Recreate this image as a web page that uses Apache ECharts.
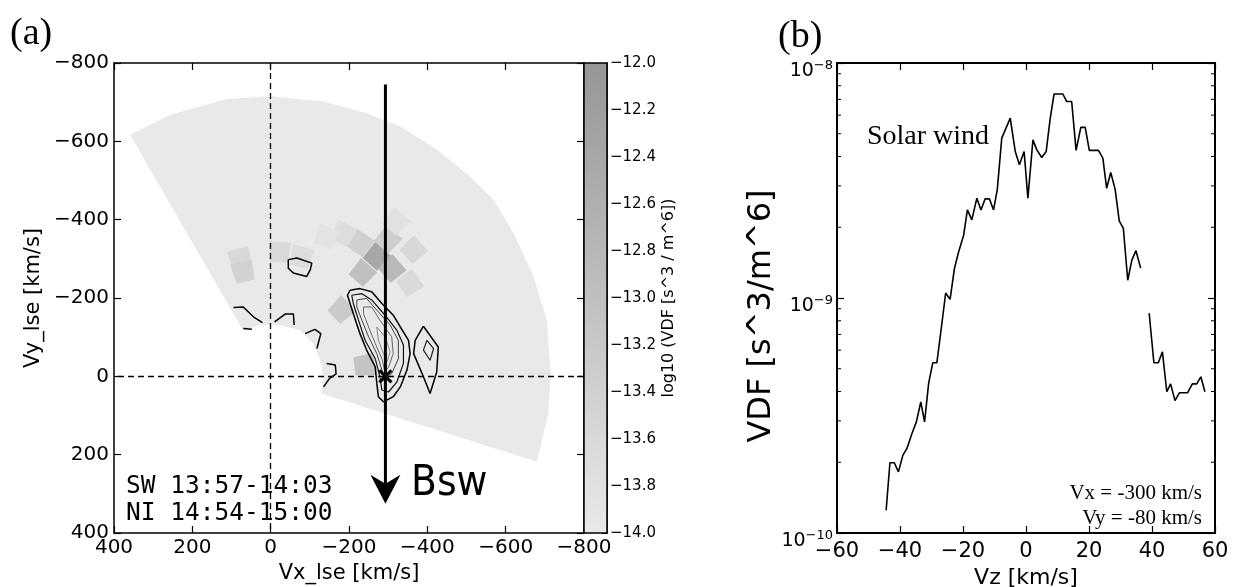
<!DOCTYPE html>
<html>
<head>
<meta charset="utf-8">
<script src="https://cdn.jsdelivr.net/npm/echarts@6/dist/echarts.min.js"></script>
<style>
html, body { margin: 0; padding: 0; background: #fff; }
#chart { width: 1237px; height: 587px; }
</style>
</head>
<body>
<div id="chart"></div>
<script>
// ---- panel (a): VDF slice in the Vx-Vy plane ----
// outline of the sampled region (level -14)
const fanOutline = [[359,-617],[257,-668],[112,-708],[0,-715],[-135,-702],[-245,-672],[-331,-638],
    [-424,-579],[-509,-510],[-569,-451],[-620,-366],[-671,-255],[-705,-144],[-715,-8],[-709,94],
    [-680,218],[-130,44],[-134,10],[-130,-33],[-109,-84],[-75,-118],[-16,-132],[27,-131],[71,-118]];

// grid cells above the floor: [vx, vy, log10 VDF]
const cells = [
    [-271,-306,-12.4], [-310,-275,-12.85], [-235,-265,-13.0], [-300,-350,-13.35],
    [-230,-340,-13.4], [-365,-323,-13.6], [-356,-238,-13.65], [-186,-365,-13.7],
    [-143,-357,-13.85], [-320,-395,-13.8], [-181,-170,-13.25], [-241,-29,-13.1],
    [78,-301,-13.6], [70,-268,-13.45], [-22,-318,-13.65], [-78,-306,-13.7]
];

// contours
const contourOuter = [[-203,-220],[-228,-224],[-258,-216],[-284,-186],[-313,-156],[-331,-126],[-352,-92],
    [-356,-58],[-348,-16],[-331,27],[-313,52],[-288,65],[-275,52],[-271,18],[-267,-24],[-245,-67],
    [-228,-109],[-211,-160],[-196,-207]];
const contourSecond = [[-207,-207],[-233,-211],[-258,-195],[-292,-156],[-322,-118],[-339,-80],[-339,-33],
    [-322,15],[-301,40],[-284,35],[-279,1],[-267,-45],[-241,-92],[-224,-144],[-211,-186]];
const contourInner1 = [[-220,-195],[-245,-199],[-271,-169],[-305,-131],[-326,-92],[-326,-45],[-309,-7],
    [-292,10],[-284,-16],[-271,-58],[-250,-101],[-233,-143],[-220,-177]];
const contourInner2 = [[-237,-177],[-258,-177],[-279,-143],[-309,-101],[-313,-58],[-301,-24],[-292,-11],
    [-284,-45],[-267,-84],[-250,-126],[-237,-160]];
const contourInner3 = [[-271,-126],[-292,-101],[-305,-63],[-297,-37],[-288,-58],[-275,-92]];
const contourSide = [[-390,-128],[-428,-75],[-424,-11],[-407,44],[-390,1],[-365,-58],[-369,-92]];
const contourSideInner = [[-399,-92],[-416,-71],[-407,-41],[-390,-67]];
const contourSmall = [[-45,-298],[-67,-302],[-105,-289],[-101,-272],[-92,-255],[-58,-264],[-45,-276]];
const edgeA = [[95,-176],[70,-177],[44,-152],[21,-137]];
const edgeA2 = [[70,-122],[48,-120]];
const edgeB = [[-10,-139],[-37,-159],[-58,-159],[-60,-131]];
const edgeC = [[-88,-109],[-113,-120],[-128,-109],[-118,-71]];
const edgeD = [[-143,-33],[-165,-29],[-167,-6],[-150,6],[-135,27]];

// magnetic field direction and solar wind core
const arrowLine = [[-293, -745, 325]];
const coreMark = [[-293, 0]];

const colorbarRange = [[-14, -12]];

// ---- panel (b): 1D cut along Vz ----
const vz = [-44.4,-43.2,-41.8,-40.5,-39.1,-37.8,-36.2,-34.8,-33.4,-32.2,-30.9,-29.6,-28.3,-26.7,-25.5,
    -24.1,-22.7,-21.4,-19.8,-18.6,-17.2,-15.6,-14.3,-13.0,-11.6,-10.3,-9.1,-7.7,-5.0,-3.4,-2.1,-0.6,
    0.6,2.2,3.4,5.0,6.4,7.7,8.9,11.7,12.9,14.5,15.9,17.4,18.8,20.1,23.0,24.4,25.6,26.9,28.3,29.6,
    30.9,32.3,33.6,34.9,36.4,37.7,39.1,40.6,42.0,43.3,44.7,45.9,47.3,48.7,51.3,52.8,54.2,55.5,56.8];
const vdf = [1.25e-10,1.99e-10,1.99e-10,1.82e-10,2.14e-10,2.29e-10,2.65e-10,2.97e-10,3.61e-10,2.97e-10,
    4.34e-10,5.30e-10,5.30e-10,7.80e-10,1.05e-9,9.87e-10,1.34e-9,1.57e-9,1.85e-9,2.37e-9,2.15e-9,
    2.66e-9,2.37e-9,2.64e-9,2.64e-9,2.37e-9,2.90e-9,4.79e-9,5.83e-9,4.20e-9,3.69e-9,4.20e-9,2.66e-9,
    4.71e-9,4.28e-9,3.96e-9,4.20e-9,5.83e-9,7.38e-9,7.38e-9,6.86e-9,6.86e-9,4.25e-9,5.32e-9,5.32e-9,
    4.25e-9,4.25e-9,3.94e-9,2.93e-9,3.42e-9,2.90e-9,2.13e-9,1.98e-9,1.19e-9,1.45e-9,1.59e-9,1.34e-9,
    null,8.61e-10,5.30e-10,5.30e-10,5.90e-10,3.99e-10,4.31e-10,3.66e-10,3.95e-10,3.95e-10,4.31e-10,
    4.31e-10,4.62e-10,3.99e-10];
const minorTicks = [2e-10,3e-10,4e-10,5e-10,6e-10,7e-10,8e-10,9e-10,2e-9,3e-9,4e-9,5e-9,6e-9,7e-9,8e-9,9e-9];

const SANS = 'DejaVu Sans';
const CELL = 52;

function minus(v) { return String(v).replace('-', '\u2212'); }

function frameAxis(extra) {
    return Object.assign({
        type: 'value',
        axisLine: { show: true, onZero: false, lineStyle: { color: '#000', width: 1.5 } },
        axisTick: { show: true, inside: true, length: 7, lineStyle: { color: '#000', width: 1.2 } },
        splitLine: { show: false },
        axisLabel: { show: false }
    }, extra);
}

function closed(pts) { return pts.concat([pts[0]]); }

function contour(points, color, width) {
    return {
        type: 'line', xAxisIndex: 0, yAxisIndex: 0, data: points,
        symbol: 'none', showSymbol: false, silent: true, z: 3,
        lineStyle: { color: color, width: width }
    };
}

var chart = echarts.init(document.getElementById('chart'));

var option = {
    animation: false,
    backgroundColor: '#fff',
    grid: [
        { left: 114, top: 63, width: 470, height: 470, outerBoundsMode: 'none' },
        { left: 584, top: 63, width: 23, height: 470, outerBoundsMode: 'none' },
        { left: 837, top: 63, width: 378, height: 470, outerBoundsMode: 'none' }
    ],
    visualMap: {
        type: 'continuous', show: false, min: -14, max: -12, dimension: 2, seriesIndex: 1,
        inRange: { color: ['#e9e9e9', '#969696'] }
    },
    xAxis: [
        frameAxis({
            gridIndex: 0, position: 'bottom', min: -800, max: 400, interval: 200, inverse: true,
            axisLabel: { show: true, margin: 5, fontSize: 20, fontFamily: SANS, color: '#000',
                showMinLabel: true, showMaxLabel: true, formatter: minus },
            name: 'Vx_lse [km/s]', nameLocation: 'middle', nameGap: 27,
            nameTextStyle: { fontSize: 21, fontFamily: SANS, color: '#000' }
        }),
        frameAxis({ gridIndex: 0, position: 'top', min: -800, max: 400, interval: 200, inverse: true }),
        { type: 'value', gridIndex: 1, min: 0, max: 1, show: false },
        frameAxis({
            gridIndex: 2, position: 'bottom', min: -60, max: 60, interval: 20,
            axisLine: { show: true, onZero: false, lineStyle: { color: '#000', width: 2 } },
            axisLabel: { show: true, margin: 8, fontSize: 21, fontFamily: SANS, color: '#000',
                showMinLabel: true, showMaxLabel: true, formatter: minus },
            name: 'Vz [km/s]', nameLocation: 'middle', nameGap: 28,
            nameTextStyle: { fontSize: 22, fontFamily: SANS, color: '#000' }
        }),
        frameAxis({
            gridIndex: 2, position: 'top', min: -60, max: 60, interval: 20,
            axisLine: { show: true, onZero: false, lineStyle: { color: '#000', width: 2 } }
        })
    ],
    yAxis: [
        frameAxis({
            gridIndex: 0, position: 'left', min: -800, max: 400, interval: 200, inverse: true,
            axisLabel: { show: true, margin: 5, fontSize: 20, fontFamily: SANS, color: '#000',
                showMinLabel: true, showMaxLabel: true, formatter: minus },
            name: 'Vy_lse [km/s]', nameLocation: 'middle', nameGap: 70, nameRotate: 90,
            nameTextStyle: { fontSize: 21, fontFamily: SANS, color: '#000' }
        }),
        frameAxis({ gridIndex: 0, position: 'right', min: -800, max: 400, interval: 200, inverse: true }),
        frameAxis({
            gridIndex: 1, position: 'right', min: -14, max: -12, interval: 0.2,
            axisTick: { show: true, inside: true, length: 5, lineStyle: { color: '#000', width: 1 } },
            axisLabel: { show: true, margin: 3, fontSize: 15, fontFamily: SANS, color: '#000',
                showMinLabel: true, showMaxLabel: true,
                formatter: function (v) { return minus(v.toFixed(1)); } },
            name: 'log10 (VDF [s^3 / m^6])', nameLocation: 'middle', nameGap: 54, nameRotate: 90,
            nameTextStyle: { fontSize: 16, fontFamily: SANS, color: '#000' }
        }),
        frameAxis({
            type: 'log', logBase: 10, gridIndex: 2, position: 'left', min: 1e-10, max: 1e-8,
            axisLine: { show: true, onZero: false, lineStyle: { color: '#000', width: 2 } },
            axisLabel: {
                show: true, margin: 4, showMinLabel: true, showMaxLabel: true,
                padding: [12, 0, 0, 0],
                formatter: function (v) { return '{b|10}{s|' + minus(Math.round(Math.log10(v))) + '}'; },
                rich: {
                    b: { fontSize: 19, fontFamily: SANS, color: '#000', lineHeight: 24, verticalAlign: 'bottom' },
                    s: { fontSize: 13, fontFamily: SANS, color: '#000', lineHeight: 14, verticalAlign: 'top', padding: [2, 0, 0, 0] }
                }
            },
            name: 'VDF [s^3/m^6]', nameLocation: 'middle', nameGap: 46, nameRotate: 90,
            nameTextStyle: { fontSize: 32, fontFamily: SANS, color: '#000', padding: [0, 36, 0, 0] }
        }),
        frameAxis({
            type: 'log', logBase: 10, gridIndex: 2, position: 'right', min: 1e-10, max: 1e-8,
            axisLine: { show: true, onZero: false, lineStyle: { color: '#000', width: 2 } }
        })
    ],
    series: [
        {
            // sampled region
            type: 'custom', xAxisIndex: 0, yAxisIndex: 0, data: [[0, 0]], silent: true, z: 1,
            renderItem: function (params, api) {
                return {
                    type: 'polygon',
                    shape: { points: fanOutline.map(function (p) { return api.coord(p); }) },
                    style: { fill: '#e9e9e9' }
                };
            }
        },
        {
            // polar grid cells
            type: 'custom', xAxisIndex: 0, yAxisIndex: 0, data: cells, silent: true, z: 2,
            encode: { x: 0, y: 1 },
            renderItem: function (params, api) {
                var x = api.value(0), y = api.value(1);
                var r = Math.hypot(x, y), th = Math.atan2(y, x);
                var dr = CELL / 2, dth = CELL / 2 / r;
                var pts = [[r - dr, th - dth], [r + dr, th - dth], [r + dr, th + dth], [r - dr, th + dth]]
                    .map(function (c) { return api.coord([c[0] * Math.cos(c[1]), c[0] * Math.sin(c[1])]); });
                return { type: 'polygon', shape: { points: pts }, style: { fill: api.visual('color') } };
            }
        },
        Object.assign(contour(closed(contourOuter), '#000', 1.5), {
            markLine: {
                silent: true, symbol: ['none', 'none'], label: { show: false },
                lineStyle: { color: '#000', width: 1.3, type: [6, 4] },
                data: [{ xAxis: 0 }, { yAxis: 0 }]
            }
        }),
        contour(closed(contourSecond), '#111', 1.2),
        contour(closed(contourInner1), '#444', 1),
        contour(closed(contourInner2), '#666', 1),
        contour(closed(contourInner3), '#888', 1),
        contour(closed(contourSide), '#000', 1.5),
        contour(closed(contourSideInner), '#222', 1.2),
        contour(closed(contourSmall), '#000', 1.5),
        contour(edgeA, '#000', 1.5),
        contour(edgeA2, '#000', 1.5),
        contour(edgeB, '#000', 1.5),
        contour(edgeC, '#000', 1.5),
        contour(edgeD, '#000', 1.5),
        {
            // B field arrow
            type: 'custom', xAxisIndex: 0, yAxisIndex: 0, data: arrowLine, silent: true, z: 5, clip: false,
            encode: { x: 0, y: 1 },
            renderItem: function (params, api) {
                var top = api.coord([api.value(0), api.value(1)]);
                var tip = api.coord([api.value(0), api.value(2)]);
                return {
                    type: 'group', children: [
                        { type: 'line', shape: { x1: top[0], y1: top[1], x2: tip[0], y2: tip[1] - 18 },
                          style: { stroke: '#000', lineWidth: 3 } },
                        { type: 'polygon', shape: { points: [[tip[0] - 15, tip[1] - 29], [tip[0], tip[1] - 20],
                            [tip[0] + 15, tip[1] - 29], [tip[0], tip[1]]] }, style: { fill: '#000' } }
                    ]
                };
            }
        },
        {
            // solar wind core marker
            type: 'custom', xAxisIndex: 0, yAxisIndex: 0, data: coreMark, silent: true, z: 6,
            renderItem: function (params, api) {
                var p = api.coord([api.value(0), api.value(1)]);
                var s = 6;
                return {
                    type: 'group', children: [
                        { type: 'line', shape: { x1: p[0] - s, y1: p[1] - s, x2: p[0] + s, y2: p[1] + s }, style: { stroke: '#000', lineWidth: 3 } },
                        { type: 'line', shape: { x1: p[0] - s, y1: p[1] + s, x2: p[0] + s, y2: p[1] - s }, style: { stroke: '#000', lineWidth: 3 } }
                    ]
                };
            }
        },
        {
            // colorbar
            type: 'custom', xAxisIndex: 2, yAxisIndex: 2, data: colorbarRange, silent: true, z: 1,
            renderItem: function (params, api) {
                var lo = api.coord([0, api.value(0)]);
                var hi = api.coord([1, api.value(1)]);
                return {
                    type: 'rect',
                    shape: { x: lo[0], y: hi[1], width: hi[0] - lo[0], height: lo[1] - hi[1] },
                    style: {
                        fill: new echarts.graphic.LinearGradient(0, 0, 0, 1, [
                            { offset: 0, color: '#969696' }, { offset: 1, color: '#e9e9e9' }
                        ]),
                        stroke: '#000', lineWidth: 1.5
                    }
                };
            }
        },
        {
            type: 'line', xAxisIndex: 3, yAxisIndex: 3,
            data: vz.map(function (x, i) { return [x, vdf[i]]; }),
            symbol: 'none', showSymbol: false, connectNulls: false, silent: true,
            lineStyle: { color: '#000', width: 1.6 }
        },
        {
            // minor log ticks on both sides
            type: 'custom', xAxisIndex: 3, yAxisIndex: 3, silent: true, clip: false,
            data: minorTicks.map(function (v) { return [0, v]; }),
            renderItem: function (params, api) {
                var l = api.coord([-60, api.value(1)]);
                var r = api.coord([60, api.value(1)]);
                return {
                    type: 'group', children: [
                        { type: 'line', shape: { x1: l[0], y1: l[1], x2: l[0] + 4, y2: l[1] }, style: { stroke: '#000', lineWidth: 1 } },
                        { type: 'line', shape: { x1: r[0], y1: r[1], x2: r[0] - 4, y2: r[1] }, style: { stroke: '#000', lineWidth: 1 } }
                    ]
                };
            }
        }
    ],
    graphic: [
        { type: 'text', x: 10, y: 34, style: { text: '(a)', font: '38px "Liberation Serif"', fill: '#000', verticalAlign: 'middle' } },
        { type: 'text', x: 778, y: 37, style: { text: '(b)', font: '38px "Liberation Serif"', fill: '#000', verticalAlign: 'middle' } },
        { type: 'text', x: 126, y: 473, z: 10, style: { text: 'SW 13:57-14:03\nNI 14:54-15:00', font: '24.5px "DejaVu Sans Mono"', lineHeight: 27, fill: '#000' } },
        { type: 'text', x: 411, y: 484, z: 10, style: { text: 'Bsw', font: '42px "DejaVu Sans Condensed", "DejaVu Sans"', fill: '#000', verticalAlign: 'middle' } },
        { type: 'text', x: 867, y: 137, z: 10, style: { text: 'Solar wind', font: '28px "Liberation Serif"', fill: '#000', verticalAlign: 'middle' } },
        { type: 'text', x: 1202, y: 493, z: 10, style: { text: 'Vx = -300 km/s', font: '21px "Liberation Serif"', fill: '#000', align: 'right', verticalAlign: 'middle' } },
        { type: 'text', x: 1202, y: 518, z: 10, style: { text: 'Vy = -80 km/s', font: '21px "Liberation Serif"', fill: '#000', align: 'right', verticalAlign: 'middle' } }
    ]
};

chart.setOption(option);
</script>
</body>
</html>
